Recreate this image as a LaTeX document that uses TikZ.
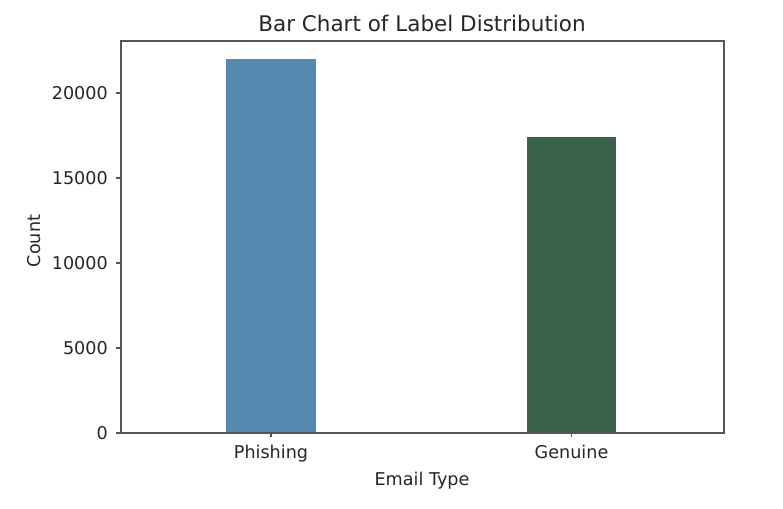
\documentclass[tikz,border=0pt]{standalone}
\usepackage{fontspec}
\setmainfont{DejaVu Sans}
\usetikzlibrary{positioning}
\definecolor{barblue}{RGB}{86,137,176}
\definecolor{bargreen}{RGB}{58,99,73}
\definecolor{axisgray}{RGB}{85,85,85}
\definecolor{textgray}{RGB}{38,38,38}
\tikzset{%
        ticklabel/.style = {text=textgray, inner sep=0pt,
                font=\fontsize{17.6}{20}\selectfont},
        titlelabel/.style = {text=textgray, inner sep=0pt,
                font=\fontsize{21.5}{24}\selectfont},
        axisline/.style = {draw=axisgray, line width=1.5pt},
        tickmark/.style = {draw=axisgray, line width=1.2pt},
        barbox/.style = {draw=none}
}

\begin{document}
\begin{tikzpicture}[x=1pt, y=-1pt]
            \useasboundingbox[fill=white] (0,0) rectangle (783,508);
            % bars (17px per 1000)
            \fill[barbox, barblue] (226,433) rectangle (316,59);
            \fill[barbox, bargreen] (527,433) rectangle (616,137);
            % frame
            \draw[axisline] (121,41) rectangle (724,433);
            % y ticks, \k in thousands
            \foreach \k/\v in {0/0, 5/5000, 10/10000, 15/15000, 20/20000} {
                \draw[tickmark] (116,433-\k*17) -- (121,433-\k*17);
                \node[ticklabel, anchor=east] (y\k) at (108,433-\k*17) {\v};
            }
            % x ticks
            \draw[tickmark] (271,433) -- (271,437);
            \draw[tickmark] (571.5,433) -- (571.5,437);
            \node[ticklabel, anchor=base] (phish) at (271,458) {Phishing};
            \node[ticklabel, anchor=base] (genu) at (571.5,458) {Genuine};
            % labels
            \node[ticklabel, anchor=base] (xlab) at (422,485) {Email Type};
            \node[ticklabel, anchor=base, rotate=90] (ylab) at (40,241) {Count};
            \node[titlelabel, anchor=base] (title) at (422,32) {Bar Chart of Label Distribution};
        \end{tikzpicture}
\end{document}
